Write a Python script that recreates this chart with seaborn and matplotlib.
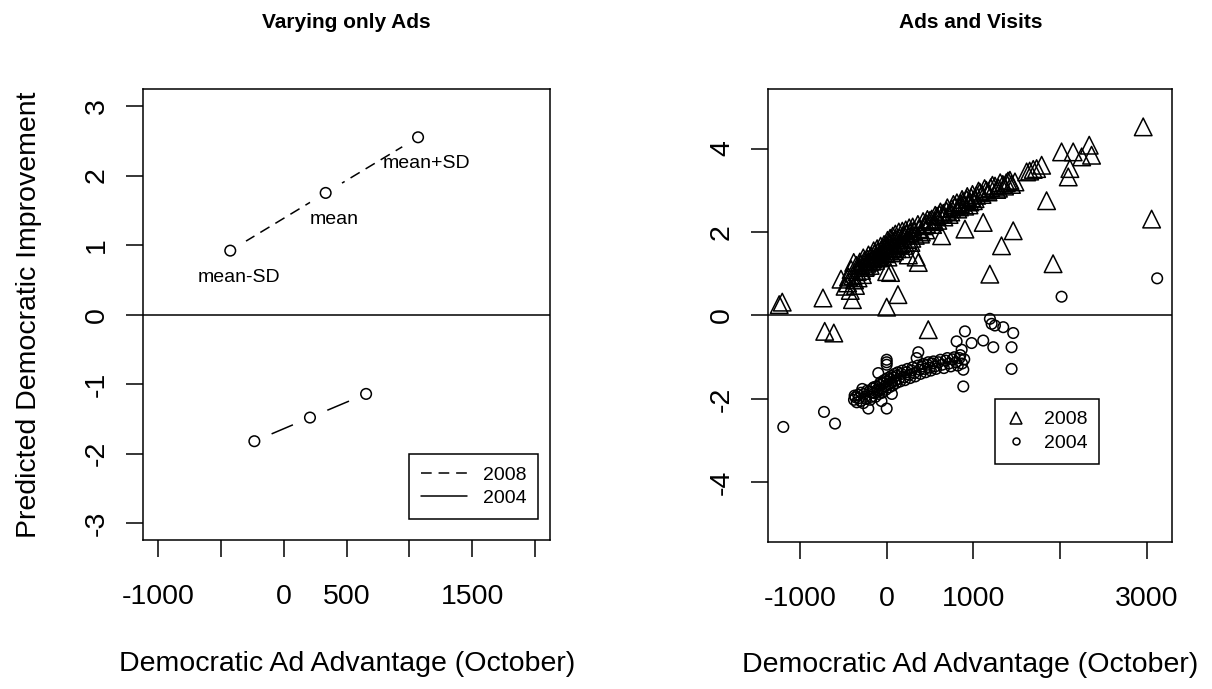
import matplotlib
matplotlib.use("Agg")
import matplotlib.pyplot as plt
from matplotlib.lines import Line2D
import pandas as pd
import seaborn as sns

sns.set_style("white")
plt.rcParams['font.family'] = ['Liberation Sans', 'DejaVu Sans']
plt.rcParams['axes.unicode_minus'] = False
plt.rcParams['text.color'] = 'black'
plt.rcParams['axes.labelcolor'] = 'black'

# left panel: predicted effect at mean-SD, mean, mean+SD of the ad advantage
ads_2008 = [-427, 333, 1069]
pred_2008 = [0.92, 1.75, 2.55]
ads_2004 = [-235, 208, 655]
pred_2004 = [-1.82, -1.48, -1.14]
point_labels = ['mean-SD', 'mean', 'mean+SD']

# right panel: ads and visits, one point per market
x_2008 = [-1240, -1205, -735, -715, -610, -527, -480, -450, -420, -395, -390, -380,
          -360, -340, -320, -300, -280, -260, -240, -220, -200, -180, -160, -140,
          -120, -100, -80, -60, -40, -20, 0, 0, 0, 0, 15, 30, 45, 60, 75, 90, 110,
          130, 130, 150, 170, 190, 210, 230, 250, 270, 290, 310, 340, 365, 370, 400,
          430, 460, 480, 500, 520, 550, 580, 610, 634, 653, 690, 720, 750, 790, 820,
          850, 880, 903, 923, 950, 975, 1000, 1038, 1076, 1114, 1150, 1190, 1200,
          1250, 1290, 1325, 1340, 1380, 1422, 1460, 1480, 1615, 1650, 1691, 1730,
          1788, 1845, 1920, 2018, 2095, 2114, 2152, 2250, 2337, 2364, 2960, 3057,
          -440, -410, -370, -350, -330, -310, -290, -270, -250, -230, -210, -190,
          -170, -150, -130, -110, -90, -70, -50, -30, -10, 10, 25, 40, 55, 70, 85,
          100, 120, 140, 160, 180, 200, 220, 240, 260, 280, 300, 330, 360, 390, 420,
          450, 470, 530, 560, 590, 620, 660, 700, 740, 770, 810, 840, 870, 900, 930,
          960, 990, 1020, 1060, 1100, 1130, 1170, 1220, 1270, 1310, 1360, 1400, 1440]
y_2008 = [0.26, 0.32, 0.42, -0.38, -0.42, 0.87, 0.70, 0.78, 0.60, 0.38, 0.95, 1.27,
          0.72, 1.05, 1.15, 1.22, 0.98, 1.30, 1.18, 1.35, 1.28, 1.42, 1.36, 1.48,
          1.40, 1.52, 1.45, 1.58, 1.50, 1.62, 0.20, 1.05, 1.55, 1.68, 1.40, 1.72,
          1.03, 1.62, 1.78, 1.55, 1.82, 0.50, 1.70, 1.86, 1.60, 1.90, 1.75, 1.95,
          1.45, 1.98, 1.85, 2.03, 1.40, 1.27, 2.08, 2.00, 2.15, 2.20, -0.34, 2.28,
          2.31, 2.25, 2.38, 2.42, 1.91, 2.45, 2.50, 2.42, 2.56, 2.62, 2.55, 2.68,
          2.72, 2.07, 2.78, 2.65, 2.82, 2.75, 2.88, 2.95, 2.23, 3.00, 0.99, 3.06,
          3.10, 3.05, 1.67, 3.14, 3.18, 3.24, 2.03, 3.20, 3.44, 3.46, 3.50, 3.52,
          3.60, 2.75, 1.24, 3.92, 3.32, 3.52, 3.92, 3.80, 4.08, 3.84, 4.52, 2.31,
          0.92, 1.10, 0.85, 1.20, 0.90, 1.28, 1.08, 1.38, 1.15, 1.25, 1.45, 1.20,
          1.30, 1.55, 1.32, 1.60, 1.38, 1.66, 1.42, 1.70, 1.48, 1.80, 1.55, 1.85,
          1.50, 1.90, 1.66, 1.95, 1.60, 2.00, 1.72, 2.02, 1.68, 2.05, 1.82, 2.10,
          1.75, 2.12, 1.92, 2.18, 1.95, 2.25, 2.05, 2.30, 2.18, 2.40, 2.28, 2.48,
          2.36, 2.58, 2.48, 2.66, 2.70, 2.60, 2.78, 2.62, 2.85, 2.72, 2.90, 2.80,
          2.98, 2.90, 3.04, 2.96, 3.12, 3.02, 3.18, 3.10, 3.22, 3.14]

x_2004 = [-1193, -723, -596, -377, -360, -330, -300, -281, -260, -240, -212, -200,
          -180, -160, -140, -120, -100, -97, -80, -60, -40, -20, 0, 0, 0, 0, 0, 20,
          40, 60, 80, 100, 120, 140, 170, 200, 230, 260, 290, 320, 346, 365, 380,
          410, 440, 470, 500, 530, 560, 600, 640, 680, 720, 760, 800, 807, 840, 865,
          884, 884, 903, 980, 1114, 1191, 1211, 1230, 1249, 1345, 1441, 1441, 1460,
          2018, 3121,
          -370, -345, -320, -295, -270, -250, -225, -190, -170, -150, -130, -110,
          -90, -70, -50, -30, -10, 10, 30, 50, 70, 90, 110, 130, 155, 180, 210,
          240, 270, 300, 330, 360, 390, 420, 450, 480, 510, 540, 570, 620, 660,
          700, 740, 780, 820, 850, 870, 895, -60, 60]
y_2004 = [-2.67, -2.31, -2.59, -2.02, -1.96, -1.90, -2.05, -1.76, -1.88, -2.00, -2.23,
          -1.82, -1.95, -1.75, -1.86, -1.70, -1.80, -1.38, -1.66, -1.76, -1.62, -1.70,
          -2.23, -1.06, -1.12, -1.18, -1.58, -1.65, -1.52, -1.60, -1.48, -1.56, -1.44,
          -1.52, -1.40, -1.48, -1.36, -1.42, -1.32, -1.38, -1.02, -0.88, -1.30, -1.22,
          -1.28, -1.18, -1.25, -1.15, -1.22, -1.12, -1.18, -1.08, -1.15, -1.05, -1.12,
          -0.62, -1.02, -0.82, -1.30, -1.70, -0.38, -0.66, -0.60, -0.08, -0.20, -0.76,
          -0.24, -0.28, -0.76, -1.28, -0.42, 0.45, 0.89,
          -1.92, -2.08, -1.98, -1.85, -2.10, -1.95, -1.80, -2.02, -1.85, -1.72, -1.95,
          -1.78, -1.88, -1.60, -1.85, -1.55, -1.78, -1.50, -1.72, -1.45, -1.68, -1.40,
          -1.62, -1.36, -1.58, -1.32, -1.55, -1.28, -1.50, -1.24, -1.46, -1.20, -1.40,
          -1.16, -1.36, -1.12, -1.32, -1.10, -1.28, -1.06, -1.26, -1.02, -1.22, -1.00,
          -1.20, -0.95, -1.15, -1.05, -2.05, -1.88]

left_xticks = [-1000, -500, 0, 500, 1000, 1500, 2000]
left_xticklabels = ['-1000', '', '0', '500', '', '1500', '']
left_yticks = [-3, -2, -1, 0, 1, 2, 3]
right_xticks = [-1000, 0, 1000, 2000, 3000]
right_xticklabels = ['-1000', '0', '1000', '', '3000']
right_yticks = [-4, -2, 0, 2, 4]

fig = plt.figure(figsize=(12.12, 6.89), dpi=100)
ax1 = fig.add_axes([0.1182, 0.2163, 0.3356, 0.6541])
ax2 = fig.add_axes([0.6339, 0.2138, 0.3333, 0.6566])

dash = (0, (7, 4.5))

# ---- left panel (type="b" look: lines with gaps around points)
sns.lineplot(x=ads_2008, y=pred_2008, ax=ax1, color='black', lw=1.1,
             linestyle=dash, sort=False, estimator=None)
sns.lineplot(x=ads_2004, y=pred_2004, ax=ax1, color='black', lw=1.1,
             sort=False, estimator=None)
for xs, ys in [(ads_2008, pred_2008), (ads_2004, pred_2004)]:
    ax1.plot(xs, ys, ls='none', marker='o', ms=27, mfc='white', mec='white',
             mew=0, zorder=3)
    sns.scatterplot(x=xs, y=ys, ax=ax1, s=58, marker='o', facecolor='none',
                    edgecolor='black', linewidth=1.1, zorder=4)
for xv, yv, lab in zip(ads_2008, pred_2008, point_labels):
    ax1.annotate(lab, (xv, yv), xytext=(6, -19), textcoords='offset points',
                 ha='center', va='center', fontsize=14, zorder=5)

ax1.axhline(0, color='black', lw=1.1)
ax1.set_xlim(-1120, 2120)
ax1.set_ylim(-3.24, 3.24)
ax1.set_xticks(left_xticks)
ax1.set_xticklabels(left_xticklabels)
ax1.set_yticks(left_yticks)
ax1.set_title('Varying only Ads', fontsize=15, fontweight='bold', pad=44)
ax1.set_xlabel('Democratic Ad Advantage (October)', fontsize=20.5)
ax1.set_ylabel('Predicted Democratic Improvement', fontsize=20.5)
ax1.xaxis.set_label_coords(0.5, -0.275)
ax1.yaxis.set_label_coords(-0.282, 0.5)
ax1.xaxis.label.set_va('center')
ax1.yaxis.label.set_va('center')

leg_kw = dict(loc='upper left', borderaxespad=0, fontsize=14, labelspacing=0.3,
              borderpad=0.6, fancybox=False, framealpha=1, edgecolor='black')
leg1 = ax1.legend(handles=[Line2D([], [], color='black', lw=1.1, linestyle=dash),
                           Line2D([], [], color='black', lw=1.1)],
                  labels=['2008', '2004'], bbox_to_anchor=(0.653, 0.190),
                  handlelength=2.4, handletextpad=0.8, **leg_kw)
leg1.get_frame().set_linewidth(1.1)

# ---- right panel
sns.scatterplot(x=x_2008, y=y_2008, ax=ax2, marker='^', s=160, facecolor='none',
                edgecolor='black', linewidth=1.1, zorder=3)
sns.scatterplot(x=x_2004, y=y_2004, ax=ax2, marker='o', s=58, facecolor='none',
                edgecolor='black', linewidth=1.1, zorder=3)
ax2.axhline(0, color='black', lw=1.1)
ax2.set_xlim(-1366, 3295)
ax2.set_ylim(-5.42, 5.42)
ax2.set_xticks(right_xticks)
ax2.set_xticklabels(right_xticklabels)
ax2.set_yticks(right_yticks)
ax2.set_title('Ads and Visits', fontsize=15, fontweight='bold', pad=44)
ax2.set_xlabel('Democratic Ad Advantage (October)', fontsize=20.5)
ax2.xaxis.set_label_coords(0.5, -0.272)
ax2.xaxis.label.set_va('center')

leg2 = ax2.legend(handles=[Line2D([], [], color='black', marker='^', ls='none',
                                  markersize=8, markerfacecolor='none', mew=1.1),
                           Line2D([], [], color='black', marker='o', ls='none',
                                  markersize=5, markerfacecolor='none', mew=1.1)],
                  labels=['2008', '2004'], bbox_to_anchor=(0.561, 0.315),
                  handlelength=1.0, handletextpad=0.9, **leg_kw)
leg2.get_frame().set_linewidth(1.1)

for ax in (ax1, ax2):
    for sp in ax.spines.values():
        sp.set_visible(True)
        sp.set_color('black')
        sp.set_linewidth(1.1)
    ax.tick_params(axis='both', direction='out', length=12, width=1.1,
                   colors='black', labelsize=20.5, bottom=True, left=True)
    ax.tick_params(axis='x', pad=20)
    ax.tick_params(axis='y', pad=12, labelrotation=90)
    for t in ax.get_yticklabels():
        t.set_va('center')

fig.savefig('out.png', dpi=100)
